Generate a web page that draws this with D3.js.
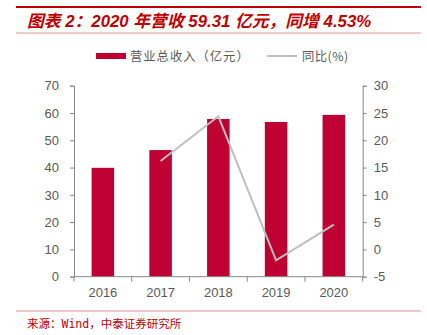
<!DOCTYPE html>
<html><head><meta charset="utf-8">
<script src="https://cdn.jsdelivr.net/npm/d3@7"></script>
<style>body{margin:0;background:#fff}svg{display:block}</style>
</head><body>
<script>
const categories = ["2016","2017","2018","2019","2020"];
const revenue = [39.9, 46.4, 57.8, 56.7, 59.31];
const yoy = [null, 16.2, 24.4, -2.0, 4.53];
const leftTicks = [0,10,20,30,40,50,60,70];
const rightTicks = [-5,0,5,10,15,20,25,30];
const titleText = "图表 2：2020 年营收 59.31 亿元，同增 4.53%";
const legendLabels = ["营业总收入（亿元）","同比(%)"];
const sourceText = "来源：Wind，中泰证券研究所";

const W=427,H=335;
const svg=d3.select("body").append("svg").attr("width",W).attr("height",H);
const red="#c00000", barColor="#be0032", axisColor="#888", txt="#595959";

// header
svg.append("line").attr("x1",16).attr("x2",421).attr("y1",7).attr("y2",7).attr("stroke",red).attr("stroke-width",2);
svg.append("text").attr("x",27).attr("y",26.5).attr("fill",red)
  .attr("font-family","'Liberation Sans','Noto Sans CJK SC',sans-serif").attr("font-size",16.8)
  .attr("font-weight","bold").attr("font-style","italic").text(titleText);
svg.append("line").attr("x1",16).attr("x2",421).attr("y1",33).attr("y2",33).attr("stroke","#f0b8b8").attr("stroke-width",1.5);

const x=d3.scaleBand().domain(categories).range([74,362.7]).paddingInner(0.61).paddingOuter(0.305);
const yL=d3.scaleLinear().domain([0,70]).range([276.7,85.7]);
const yR=d3.scaleLinear().domain([-5,30]).range([276.7,85.7]);

// bars
svg.append("g").selectAll("rect").data(categories).join("rect")
  .attr("x",d=>x(d)).attr("width",x.bandwidth())
  .attr("y",(d,i)=>yL(revenue[i])).attr("height",(d,i)=>yL(0)-yL(revenue[i]))
  .attr("fill",barColor);

// line
const pts=categories.map((c,i)=>({c,v:yoy[i]})).filter(d=>d.v!==null);
svg.append("path").datum(pts).attr("fill","none").attr("stroke","#bfbfbf").attr("stroke-width",2)
  .attr("d",d3.line().x(d=>x(d.c)+x.bandwidth()/2).y(d=>yR(d.v)));

// axes
function styleAxis(g){
  g.selectAll("path,line").attr("stroke",axisColor);
  g.selectAll("text").attr("fill",txt).attr("font-family","'Liberation Sans',Arial,sans-serif").attr("font-size",13);
}
svg.append("g").attr("transform","translate(74,0)")
  .call(d3.axisLeft(yL).tickValues(leftTicks).tickSize(4).tickSizeOuter(4).tickPadding(11))
  .call(styleAxis);
svg.append("g").attr("transform","translate(362.7,0)")
  .call(d3.axisRight(yR).tickValues(rightTicks).tickFormat(d=>String(d)).tickSize(4).tickSizeOuter(4).tickPadding(7))
  .call(styleAxis);
const xg=svg.append("g").attr("transform","translate(0,276.7)")
  .call(d3.axisBottom(x).tickSize(0).tickPadding(11))
  .call(styleAxis);
xg.select("path.domain").attr("d","M74,0H362.7");
xg.selectAll("line.sep").data(d3.range(categories.length+1)).join("line").attr("class","sep")
  .attr("x1",i=>74+i*x.step()).attr("x2",i=>74+i*x.step()).attr("y1",0).attr("y2",5).attr("stroke",axisColor);

// legend
const lg=svg.append("g");
lg.append("rect").attr("x",96).attr("y",53).attr("width",30).attr("height",6).attr("fill",barColor);
lg.append("text").attr("x",130).attr("y",60.5).attr("fill",txt).attr("font-family","'Noto Sans CJK SC',sans-serif").attr("font-size",12.3).attr("letter-spacing",1).text(legendLabels[0]);
lg.append("line").attr("x1",267).attr("x2",297).attr("y1",56).attr("y2",56).attr("stroke","#bfbfbf").attr("stroke-width",2);
lg.append("text").attr("x",302).attr("y",60.5).attr("fill",txt).attr("font-family","'Noto Sans CJK SC',sans-serif").attr("font-size",12.3).attr("letter-spacing",0.5).text(legendLabels[1]);

// footer
svg.append("line").attr("x1",16).attr("x2",421).attr("y1",311).attr("y2",311).attr("stroke","#e09090").attr("stroke-width",1);
svg.append("text").attr("x",27).attr("y",328).attr("fill",red)
  .attr("font-family","'DejaVu Sans Mono','Noto Sans CJK SC',monospace").attr("font-size",11.5).text(sourceText);
</script>
</body></html>
